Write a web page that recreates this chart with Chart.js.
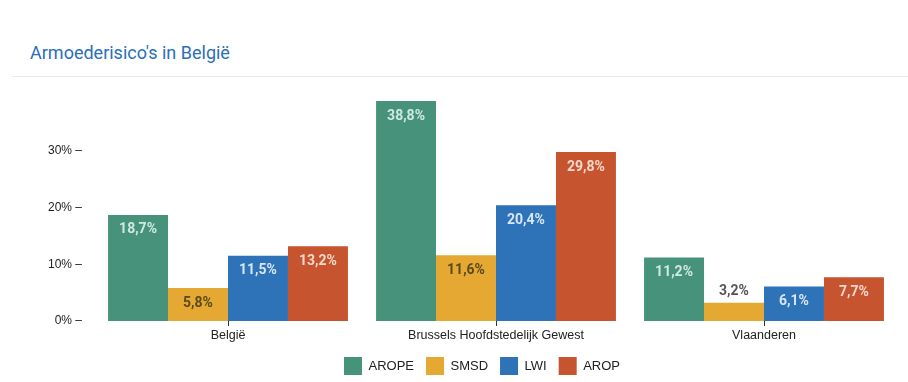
<!DOCTYPE html>
<html><head><meta charset="utf-8">
<script src="https://cdn.jsdelivr.net/npm/chart.js@4/dist/chart.umd.min.js"></script>
<style>
html,body{margin:0;padding:0;background:#fff;width:908px;height:382px;overflow:hidden;}
#title{position:absolute;left:30px;top:42px;font-family:Roboto,sans-serif;font-size:18px;color:#2a6fb8;}
#sep{position:absolute;left:12px;right:0;top:76px;height:1px;background:#e9e9e9;}
#wrap{position:absolute;left:0;top:80px;width:908px;height:305px;}
</style></head><body>
<div id="title">Armoederisico's in België</div>
<div id="sep"></div>
<div id="wrap"><canvas id="c"></canvas></div>
<script>
const categories = ["België", "Brussels Hoofdstedelijk Gewest", "Vlaanderen"];
const seriesNames = ["AROPE", "SMSD", "LWI", "AROP"];
const arope = [18.7, 38.8, 11.2];
const smsd = [5.8, 11.6, 3.2];
const lwi = [11.5, 20.4, 6.1];
const arop = [13.2, 29.8, 7.7];
const yTicks = [0, 10, 20, 30];

const colors = ["#46927a", "#e5a832", "#2e72b8", "#c6542f"];
const labelColors = ["#cfeadf", "#5b4a1e", "#d6e6f6", "#f6d8cc"];
const values = [arope, smsd, lwi, arop];

const labelPlugin = {
  id: 'barLabels',
  afterDatasetsDraw(chart) {
    const ctx = chart.ctx;
    ctx.save();
    ctx.font = 'bold 14px Roboto, sans-serif';
    ctx.textAlign = 'center';
    ctx.textBaseline = 'middle';
    chart.data.datasets.forEach((ds, di) => {
      const meta = chart.getDatasetMeta(di);
      meta.data.forEach((bar, i) => {
        const v = ds.data[i];
        const txt = v.toFixed(1).replace('.', ',') + '%';
        const h = bar.base - bar.y;
        if (h > 28) {
          ctx.fillStyle = labelColors[di];
          ctx.fillText(txt, bar.x, bar.y + 15);
        } else {
          ctx.fillStyle = '#555';
          ctx.fillText(txt, bar.x, bar.y - 11);
        }
      });
    });
    ctx.restore();
  }
};

const legendShift = {
  id: 'legendShift',
  afterLayout(chart) {
    if (chart.legend) {
      chart.legend.left += 33;
      chart.legend.right += 33;
    }
  }
};

new Chart(document.getElementById('c'), {
  type: 'bar',
  data: {
    labels: categories,
    datasets: values.map((d, i) => ({
      label: seriesNames[i],
      data: d,
      backgroundColor: colors[i],
      borderWidth: 0,
      barPercentage: 1,
      categoryPercentage: 0.895
    }))
  },
  options: {
    responsive: true,
    maintainAspectRatio: false,
    animation: false,
    layout: { padding: { top: 21, right: 10, left: 0, bottom: 0 } },
    plugins: {
      tooltip: { enabled: false },
      legend: {
        position: 'bottom',
        labels: {
          boxWidth: 18, boxHeight: 18, padding: 12,
          color: '#222',
          font: { family: 'Liberation Sans, Arial, sans-serif', size: 13 }
        }
      }
    },
    scales: {
      x: {
        grid: { display: true, drawOnChartArea: false, drawTicks: true, tickLength: 5, tickColor: '#333', offset: false },
        border: { display: false },
        ticks: { color: '#222', padding: 2, font: { family: 'Liberation Sans, Arial, sans-serif', size: 12.5 } }
      },
      y: {
        min: 0, max: 38.8,
        afterFit(scale) { scale.width = 94; },
        afterBuildTicks(scale) { scale.ticks = yTicks.map(v => ({ value: v })); },
        grid: { display: false },
        border: { display: false },
        ticks: {
          color: '#222', padding: 4,
          font: { family: 'Liberation Sans, Arial, sans-serif', size: 12 },
          callback: v => v + '% –'
        }
      }
    }
  },
  plugins: [labelPlugin, legendShift]
});
</script>
</body></html>
